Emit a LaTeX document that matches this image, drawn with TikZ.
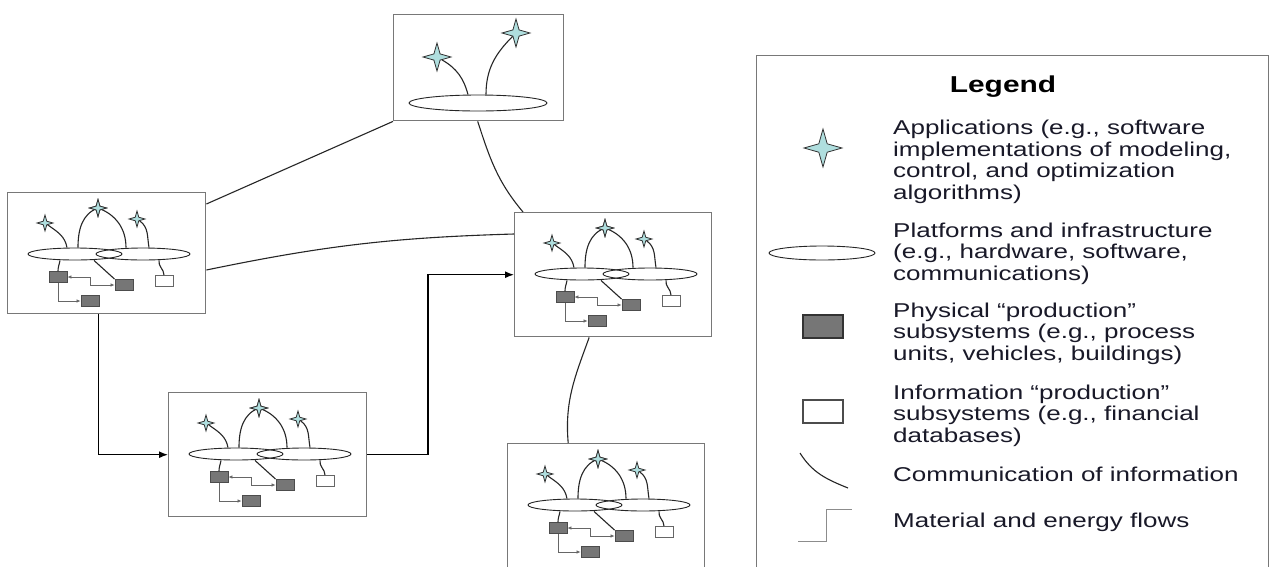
\documentclass[tikz,border=0pt]{standalone}
\usepackage{fontspec}
\setmainfont{Liberation Sans}
\newfontfamily\legfont{Liberation Sans}[FakeStretch=1.3]
\usetikzlibrary{shapes.geometric,arrows.meta,calc}
\definecolor{starfill}{RGB}{175,222,222}
\definecolor{boxgray}{RGB}{120,120,120}
\definecolor{darkfill}{RGB}{118,118,118}
\definecolor{txt}{RGB}{25,25,40}
\tikzset{
  boxframe/.style={draw=boxgray, line width=1.4, fill=white, inner sep=0, rectangle},
  plat/.style={ellipse, draw=black!85, line width=0.9, minimum width=94, minimum height=12, inner sep=0},
  astar/.style={star, star points=4, star point ratio=3.2, draw=black!80, fill=starfill, line width=0.8, inner sep=0, minimum size=#1},
  astar/.default=16,
  phys/.style={rectangle, draw=black!70, fill=darkfill, line width=0.8, minimum width=18, minimum height=11, inner sep=0},
  info/.style={rectangle, draw=black!60, fill=white, line width=0.8, minimum width=18, minimum height=11, inner sep=0},
  comm/.style={draw=black!85, line width=1.1},
  iflow/.style={draw=black!60, line width=0.7},
  flowarrow/.style={draw=black, line width=1.3, -{Latex[length=9pt,width=7pt]}},
  legtext/.style={font=\legfont\fontsize{20}{21.5}\selectfont, text=txt, align=left, inner sep=0, anchor=base west},
}
\newcommand\mkcluster[3]{%
  \node[astar] (#1s1) at (#2+38,#3+31) {};
  \node[astar=17] (#1s2) at (#2+91,#3+16) {};
  \node[astar] (#1s3) at (#2+130,#3+27) {};
  \node[plat] (#1e1) at (#2+68,#3+62) {};
  \node[plat] (#1e2) at (#2+136,#3+62) {};
  \node[phys] (#1d1) at (#2+51,#3+85) {};
  \node[phys] (#1d2) at (#2+117,#3+93) {};
  \node[phys] (#1d3) at (#2+83,#3+109) {};
  \node[info] (#1w) at (#2+157,#3+89) {};
  \draw[comm] (#1s1) to[out=-35,in=100] ([xshift=-8pt]#1e1.north);
  \draw[comm] ([xshift=3pt]#1e1.north) to[out=90,in=-160] (#1s2.center) to[out=-20,in=90] ([xshift=-17pt]#1e2.north);
  \draw[comm] (#1s3) to[out=-35,in=100] ([xshift=6pt]#1e2.north);
  \node[astar=17] at (#1s2) {};
  \draw[comm] ([xshift=-15pt]#1e1.south) to[out=-100,in=90] (#1d1.north);
  \draw[comm] ([xshift=19pt]#1e1.south) -- (#1d2.north west);
  \draw[comm] ([xshift=16pt]#1e2.south) to[out=-100,in=90] (#1w.north);
  \draw[iflow,{Latex[length=4pt,width=3.5pt]}-{Latex[length=4pt,width=3.5pt]}] (#1d1.east) -| ([xshift=-24pt]#1d2.west) -- (#1d2.west);
  \draw[iflow,-{Latex[length=4pt,width=3.5pt]}] (#1d1.south) |- (#1d3.west);
}
\begin{document}
\begin{tikzpicture}[x=1pt,y=-1pt]
\useasboundingbox (0,0) rectangle (1270,566);
\fill[white] (0,0) rectangle (1270,566);

% frames
\node[boxframe, minimum width=170, minimum height=106, anchor=north west] (T) at (393,14) {};
\node[boxframe, minimum width=198, minimum height=121, anchor=north west] (L) at (7,192) {};
\node[boxframe, minimum width=198, minimum height=124, anchor=north west] (M) at (168,392) {};
\node[boxframe, minimum width=197, minimum height=124, anchor=north west] (R) at (514,212) {};
\node[boxframe, minimum width=197, minimum height=130, anchor=north west] (B) at (507,443) {};

% top box content
\node[astar=28] (Ts1) at (437,57) {};
\node[astar=28] (Ts2) at (516,33) {};
\node[plat, minimum width=138, minimum height=16] (Te) at (478,103) {};
\draw[comm] (Ts1) to[out=-30,in=105] ([xshift=-10pt]Te.north);
\draw[comm] ([xshift=8pt]Te.north) to[out=90,in=-135] (Ts2);

% clusters
\mkcluster{L}{7}{192}
\mkcluster{M}{168}{392}
\mkcluster{R}{514}{212}
\mkcluster{B}{507}{443}

% communication between boxes
\draw[comm] (T.south west) -- ([yshift=-12pt]L.north east);
\draw[comm] ([yshift=-78pt]L.north east) to[bend left=5] ([yshift=-22pt]R.north west);
\draw[comm] ([xshift=-1pt]T.south) to[out=-72,in=130] ([xshift=9pt]R.north west);
\draw[comm] ([xshift=-24pt]R.south) to[out=-110,in=95] ([xshift=-38pt]B.north);

% material flows between boxes
\draw[flowarrow] ([xshift=-8pt]L.south) |- (M.west);
\draw[flowarrow] (M.east) -| ([xshift=-86pt]R.west) -- (R.west);

% legend
\node[boxframe, fill=none, minimum width=512, minimum height=520, anchor=north west] (LG) at (756,55) {};
\node[font=\legfont\bfseries\fontsize{23}{25}\selectfont, text=black, anchor=base, inner sep=0] (LGt) at (1003,92) {Legend};

\node[astar=38] (lstar) at (823,148) {};
\node[legtext] (lt1) at (893,199) {Applications (e.g., software\\implementations of modeling,\\control, and optimization\\algorithms)};

\node[plat, minimum width=106, minimum height=14] (lell) at (822,253) {};
\node[legtext] (lt2) at (893,280) {Platforms and infrastructure\\(e.g., hardware, software,\\communications)};

\node[phys, minimum width=40, minimum height=23, line width=1.8, draw=black!80] (lphys) at (823,326.5) {};
\node[legtext] (lt3) at (893,360) {Physical “production”\\subsystems (e.g., process\\units, vehicles, buildings)};

\node[info, minimum width=40, minimum height=23, line width=1.8, draw=black!70] (linfo) at (823,411.5) {};
\node[legtext] (lt4) at (893,442) {Information “production”\\subsystems (e.g., financial\\databases)};

\coordinate (lc1) at (800,453);
\coordinate (lc2) at (848,488);
\draw[comm] (lc1) to[out=-58,in=158] (lc2);
\node[legtext] (lt5) at (893,481) {Communication of information};

\coordinate (lm1) at (798,541);
\coordinate (lm2) at (852,509);
\draw[draw=black!45, line width=0.9] (lm1) -| ([xshift=-26pt]lm2) -- (lm2);
\node[legtext] (lt6) at (893,527) {Material and energy flows};
\end{tikzpicture}
\end{document}
